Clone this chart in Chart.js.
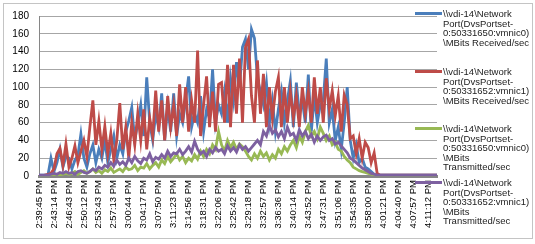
<!DOCTYPE html>
<html>
<head>
<meta charset="utf-8">
<script src="https://cdn.jsdelivr.net/npm/chart.js@4"></script>
<style>
  body { margin: 0; background: #fff; }
  #wrap { position: relative; width: 535px; height: 244px; }
  #frame { position: absolute; left: 3px; top: 3px; width: 528px; height: 234px; border: 1px solid #c4c4c4; pointer-events: none; }
  .leg { position: absolute; left: 415px; font: 9.5px "Liberation Sans", Arial, sans-serif; color: #222; }
  .leg .ln { position: absolute; left: 0; top: 3px; width: 27px; height: 3px; }
  .leg .tx { position: absolute; left: 28px; line-height: 9.6px; white-space: nowrap; }
</style>
</head>
<body>
<div id="wrap">
  <canvas id="chart" width="535" height="244"></canvas>
  <div id="frame"></div>
  <div class="leg" style="top:9px"><div class="ln" style="background:#4a7ebb"></div><div class="tx">\\vdi-14\Network<br>Port(DvsPortset-<br>0:50331650:vmnic0)<br>\MBits Received/sec</div></div>
  <div class="leg" style="top:67px"><div class="ln" style="background:#be4b48"></div><div class="tx">\\vdi-14\Network<br>Port(DvsPortset-<br>0:50331652:vmnic1)<br>\MBits Received/sec</div></div>
  <div class="leg" style="top:124px"><div class="ln" style="background:#98b954"></div><div class="tx">\\vdi-14\Network<br>Port(DvsPortset-<br>0:50331650:vmnic0)<br>\MBits<br>Transmitted/sec</div></div>
  <div class="leg" style="top:178px"><div class="ln" style="background:#7d60a0"></div><div class="tx">\\vdi-14\Network<br>Port(DvsPortset-<br>0:50331652:vmnic1)<br>\MBits<br>Transmitted/sec</div></div>
</div>
<script>
// tick labels shown every 5th sample
const timeTicks = ['2:39:45 PM','2:43:14 PM','2:46:43 PM','2:50:12 PM','2:53:43 PM','2:57:13 PM',
  '3:00:44 PM','3:04:17 PM','3:07:50 PM','3:11:23 PM','3:14:56 PM','3:18:31 PM','3:22:06 PM',
  '3:25:42 PM','3:29:18 PM','3:32:57 PM','3:36:36 PM','3:40:14 PM','3:43:52 PM','3:47:31 PM',
  '3:51:06 PM','3:54:35 PM','3:58:00 PM','4:01:21 PM','4:04:40 PM','4:07:57 PM','4:11:12 PM'];

const rxVmnic0 = [1,1,1,1,20,5,15,30,10,22,
  20,8,18,23,47,20,10,25,35,15,
  30,20,40,15,30,45,20,35,25,50,
  62,77,40,60,80,45,111,60,40,70,
  55,93,40,78,50,93,45,70,60,85,
  112,55,70,60,90,50,75,65,120,60,
  80,70,95,60,110,85,128,100,145,154,
  120,165,155,110,95,80,105,60,85,50,
  75,95,60,85,107,55,105,70,85,60,
  114,50,90,60,80,85,132,60,75,40,
  55,30,60,100,40,20,35,15,20,10,
  8,5,2,1,1,1,1,1,1,1,
  1,1,1,1,1,1,1,1,1,1,
  1,1,1,1];

const rxVmnic1 = [0,0,1,2,3,8,25,31,12,36,
  10,20,34,15,28,40,22,55,85,35,
  62,30,56,25,48,18,40,82,30,55,
  20,60,35,70,40,75,30,65,45,96,
  50,85,40,90,55,80,45,103,60,100,
  50,85,60,141,45,80,112,55,95,50,
  103,105,60,125,55,125,70,132,60,145,
  154,90,60,130,70,115,55,100,65,95,
  111,55,100,60,95,65,90,55,100,70,
  95,60,111,70,100,60,110,75,96,68,
  90,50,91,80,42,45,25,42,20,38,
  32,15,26,3,1,1,1,1,1,1,
  1,1,1,1,1,1,1,1,1,1,
  1,1,1,1];

const txVmnic0 = [0,0,0,0,1,1,2,1,2,3,
  2,3,5,2,4,6,3,5,8,4,
  6,3,7,5,9,4,6,8,5,10,
  7,8,12,6,10,9,14,8,12,15,
  10,18,14,22,16,20,25,18,22,15,
  20,17,24,19,28,22,30,25,35,30,
  50,35,28,40,32,38,30,36,33,28,
  22,18,25,20,28,22,26,18,24,20,
  30,25,33,28,35,40,32,45,38,50,
  57,45,50,42,55,48,40,45,35,38,
  30,28,22,18,15,10,8,6,5,4,
  3,2,1,0,0,0,0,0,0,0,
  0,0,0,0,0,0,0,0,0,0,
  0,0,0,0];

const txVmnic1 = [1,1,1,1,2,3,2,4,3,5,
  3,4,2,5,6,4,3,5,8,6,
  10,8,12,10,15,11,18,13,16,12,
  20,15,22,17,14,20,18,25,16,21,
  19,24,20,28,22,26,25,30,24,28,
  33,27,39,30,25,28,22,30,26,32,
  28,30,25,34,28,32,27,35,30,33,
  28,32,36,40,35,50,45,57,48,52,
  44,50,42,55,46,48,40,52,45,50,
  42,47,38,45,40,44,46,40,42,36,
  38,34,30,26,20,18,15,12,9,7,
  5,3,2,1,1,1,1,1,1,1,
  1,1,1,1,1,1,1,1,1,1,
  1,1,1,1];

// one category per sample, time text only where Excel shows it
const labels = rxVmnic0.map((v, i) => (i % 5 === 0 ? (timeTicks[i / 5] || '') : ''));

function series(data, color, order) {
  return { data, borderColor: color, backgroundColor: color, borderWidth: 2.8,
    pointRadius: 0, tension: 0, order };
}

new Chart(document.getElementById('chart'), {
  type: 'line',
  data: {
    labels,
    datasets: [
      series(rxVmnic0, '#4a7ebb', 4),
      series(rxVmnic1, '#be4b48', 3),
      series(txVmnic0, '#98b954', 2),
      series(txVmnic1, '#7d60a0', 1)
    ]
  },
  options: {
    responsive: false,
    animation: false,
    layout: { padding: { top: 9, right: 98, left: 0, bottom: 0 } },
    plugins: { legend: { display: false }, tooltip: { enabled: false } },
    scales: {
      x: {
        offset: false,
        grid: { display: false, drawTicks: false },
        border: { color: '#868686', width: 3 },
        ticks: { autoSkip: false, maxRotation: 90, minRotation: 90, padding: 4,
          color: '#000', font: { family: 'Liberation Sans', size: 9.5 } },
        afterFit: (s) => { s.height = 68; }
      },
      y: {
        min: 0, max: 180,
        grid: { color: '#a6a6a6', drawTicks: false },
        border: { color: '#868686', width: 1 },
        ticks: { stepSize: 20, padding: 10, color: '#000',
          font: { family: 'Liberation Sans', size: 10 } },
        afterFit: (s) => { s.width = 39; }
      }
    }
  }
});
</script>
</body>
</html>
